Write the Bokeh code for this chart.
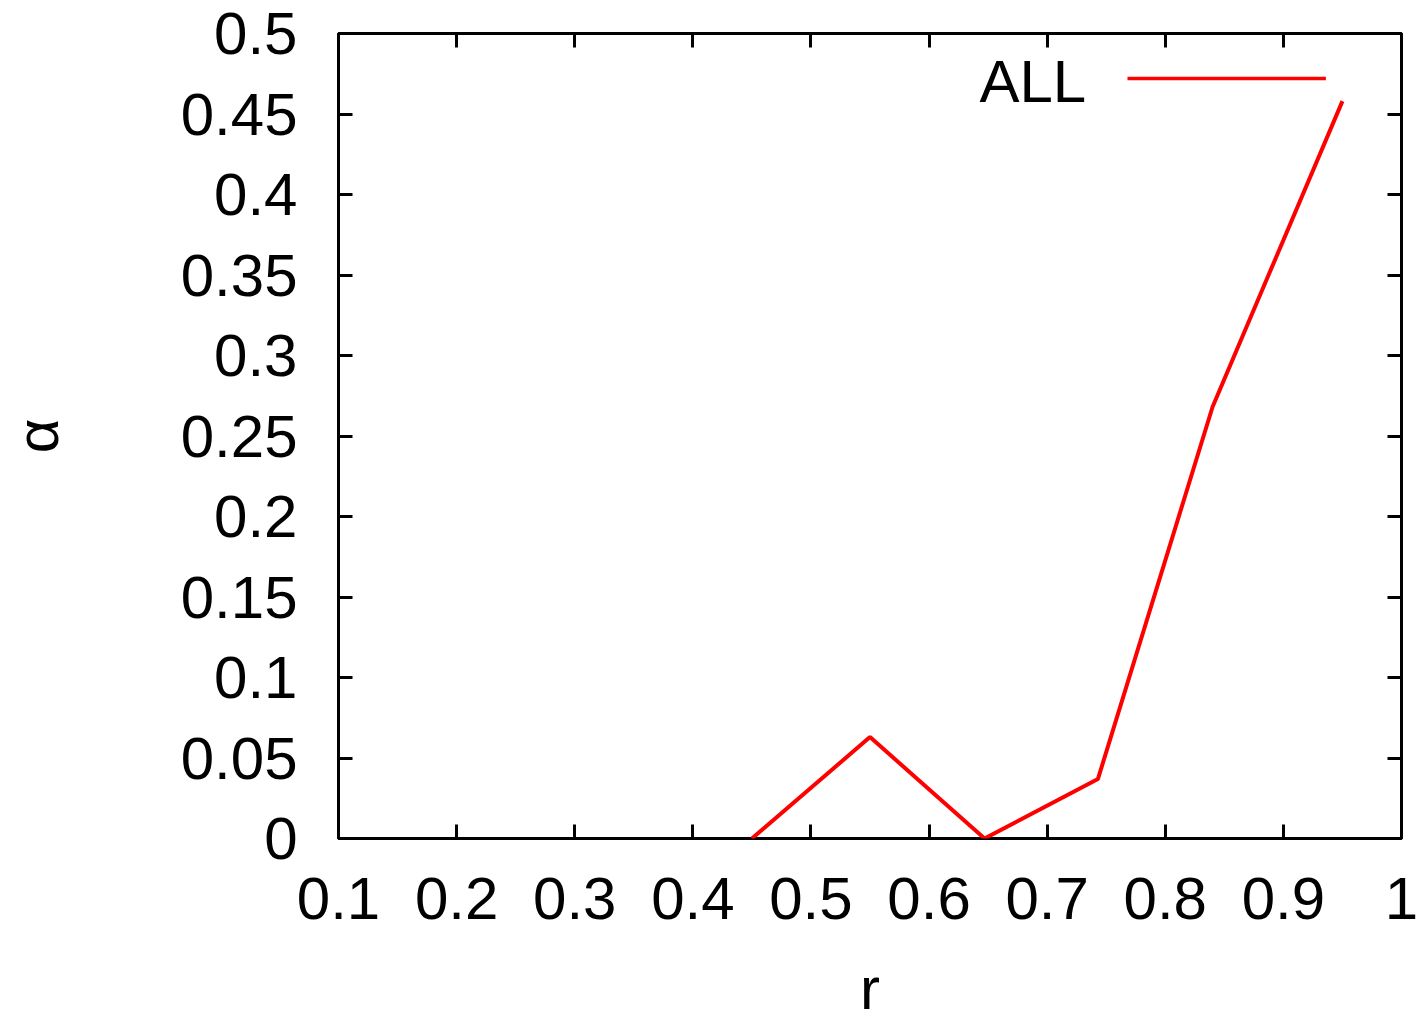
from bokeh.plotting import figure
from bokeh.models import (Range1d, FixedTicker, LinearAxis, Label, Arrow)
from bokeh.embed import file_html
from bokeh.resources import INLINE

# Series "ALL": alpha as a function of r
r_values = [0.45, 0.55, 0.647, 0.743, 0.84, 0.95]
alpha_values = [0.0, 0.063, 0.0, 0.037, 0.268, 0.458]

x_ticks = [0.1, 0.2, 0.3, 0.4, 0.5, 0.6, 0.7, 0.8, 0.9, 1.0]
x_tick_labels = ["0.1", "0.2", "0.3", "0.4", "0.5", "0.6", "0.7", "0.8", "0.9", "1"]
y_ticks = [0.0, 0.05, 0.1, 0.15, 0.2, 0.25, 0.3, 0.35, 0.4, 0.45, 0.5]
y_tick_labels = ["0", "0.05", "0.1", "0.15", "0.2", "0.25", "0.3", "0.35", "0.4", "0.45", "0.5"]

series_name = "ALL"
x_title = "r"
y_title = "\u03b1"

FONT = "Liberation Sans"
FS = "60px"
RED = "#ff0000"

p = figure(width=1420, height=1024, output_backend="svg", toolbar_location=None,
           x_range=Range1d(0.1, 1.0), y_range=Range1d(0.0, 0.5),
           min_border_left=338, min_border_right=19, min_border_top=33, min_border_bottom=186,
           x_axis_type=None, y_axis_type=None)
p.grid.visible = False
p.background_fill_color = "white"
p.border_fill_color = "white"
p.outline_line_color = "black"
p.outline_line_width = 3


def style_axis(ax, ticks, labels):
    ax.ticker = FixedTicker(ticks=ticks)
    ax.major_label_overrides = {t: l for t, l in zip(ticks, labels)}
    ax.major_tick_in = 14
    ax.major_tick_out = 0
    ax.major_tick_line_width = 3
    ax.major_tick_line_color = "black"
    ax.minor_tick_line_color = None
    ax.axis_line_color = None
    ax.major_label_text_font = FONT
    ax.major_label_text_font_size = FS
    ax.major_label_text_color = "black"
    ax.axis_label_text_font = FONT
    ax.axis_label_text_font_size = FS
    ax.axis_label_text_font_style = "normal"
    ax.axis_label_text_color = "black"


xb = LinearAxis(axis_label=x_title)
style_axis(xb, x_ticks, x_tick_labels)
xb.major_label_standoff = 39
xb.axis_label_standoff = 33
p.add_layout(xb, "below")

yl = LinearAxis(axis_label=y_title)
style_axis(yl, y_ticks, y_tick_labels)
yl.major_label_standoff = 41
yl.axis_label_standoff = 107
p.add_layout(yl, "left")

# mirrored ticks on the top and right edges, no labels
xt = LinearAxis()
style_axis(xt, x_ticks, [""] * len(x_ticks))
xt.major_label_standoff = 0
p.add_layout(xt, "above")

yr = LinearAxis()
style_axis(yr, y_ticks, [""] * len(y_ticks))
yr.major_label_standoff = 0
p.add_layout(yr, "right")

p.line(r_values, alpha_values, line_color=RED, line_width=4)

# key in the upper right: name on the left, line sample on the right
p.add_layout(Label(x=0.733, y=0.470, text=series_name, text_align="right",
                   text_baseline="alphabetic", text_font=FONT, text_font_size=FS,
                   text_color="black"))
p.add_layout(Arrow(x_start=0.768, y_start=0.472, x_end=0.936, y_end=0.472,
                   end=None, line_color=RED, line_width=3.5))

open("out.html", "w").write(file_html(p, INLINE))
